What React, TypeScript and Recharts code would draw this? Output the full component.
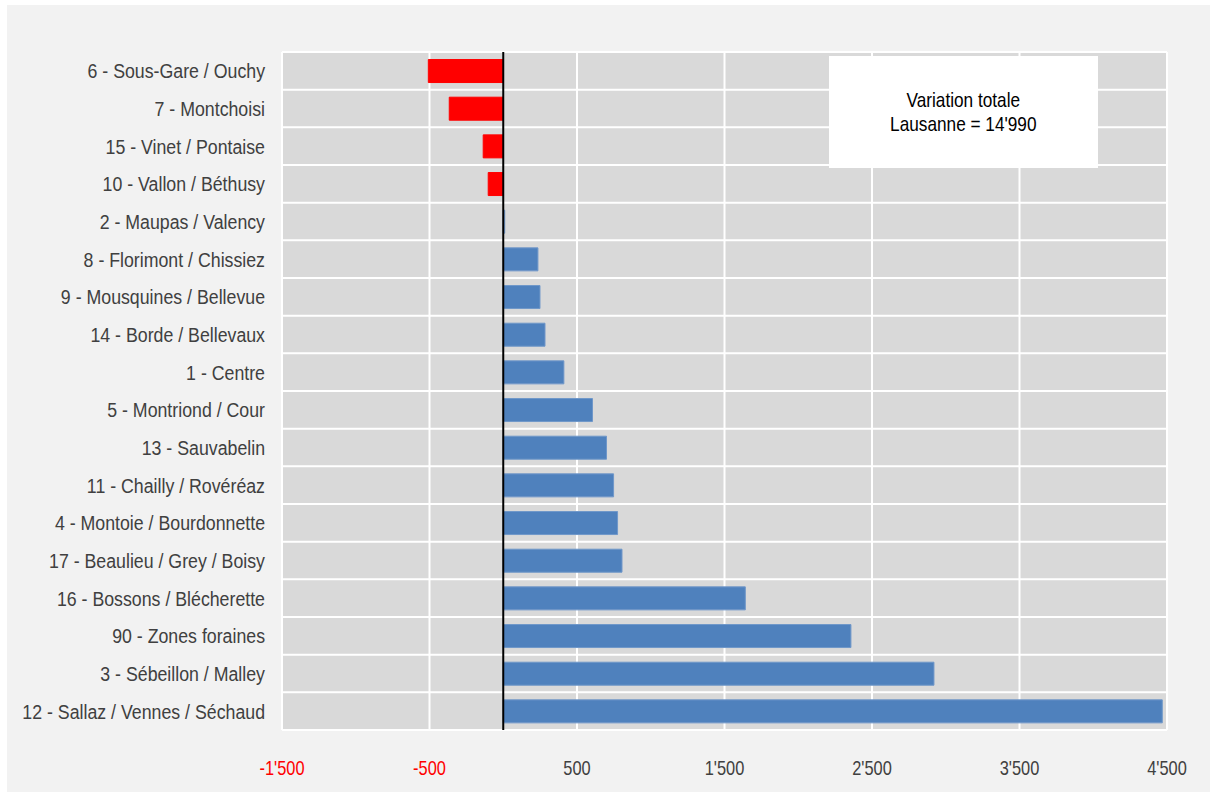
import React from "react";
import {
  BarChart,
  Bar,
  Cell,
  XAxis,
  YAxis,
  CartesianGrid,
  ReferenceLine,
} from "recharts";

// Variation de population par quartier
const quartiers = [
  "6 - Sous-Gare / Ouchy",
  "7 - Montchoisi",
  "15 - Vinet / Pontaise",
  "10 - Vallon / Béthusy",
  "2 - Maupas / Valency",
  "8 - Florimont / Chissiez",
  "9 - Mousquines / Bellevue",
  "14 - Borde / Bellevaux",
  "1 - Centre",
  "5 - Montriond / Cour",
  "13 - Sauvabelin",
  "11 - Chailly / Rovéréaz",
  "4 - Montoie / Bourdonnette",
  "17 - Beaulieu / Grey / Boisy",
  "16 - Bossons / Blécherette",
  "90 - Zones foraines",
  "3 - Sébeillon / Malley",
  "12 - Sallaz / Vennes / Séchaud",
];
const variations = [
  -508, -366, -136, -102, 10, 235, 249, 283, 411, 605, 700, 748, 775, 805,
  1641, 2357, 2920, 4468,
];
const xTicks = [-1500, -500, 500, 1500, 2500, 3500, 4500];
const totalLabel = ["Variation totale", "Lausanne = 14'990"];

const data = quartiers.map((name, i) => ({ name, value: variations[i] }));

// no narrow font installed: squeeze Liberation Sans to look like Arial Narrow
const FONT = '"Liberation Sans", Arial, sans-serif';
const NARROW = 0.82;
const NARROW_Y = 0.845;

const fmt = (n: number) =>
  String(n).replace(/\B(?=(\d{3})+(?!\d))/g, "'");

const XTick = (props: any) => {
  const { x, y, payload } = props;
  const v = payload.value as number;
  return (
    <g transform={`translate(${x},${y})`}>
      <text
        transform={`scale(${NARROW},1)`}
        dy={43}
        textAnchor="middle"
        fontSize={20}
        fontFamily={FONT}
        fill={v < 0 ? "#ff0000" : "#404040"}
      >
        {fmt(v)}
      </text>
    </g>
  );
};

const YTick = (props: any) => {
  const { x, y, payload } = props;
  return (
    <g transform={`translate(${x},${y})`}>
      <text
        transform={`scale(${NARROW_Y},1)`}
        dy="0.355em"
        textAnchor="end"
        fontSize={21}
        fontFamily={FONT}
        fill="#404040"
      >
        {payload.value}
      </text>
    </g>
  );
};

export default function App() {
  const n = data.length;
  return (
    <div
      style={{
        position: "absolute",
        left: 0,
        top: 0,
        width: 1214,
        height: 792,
        background: "#ffffff",
      }}
    >
      <div
        style={{
          position: "absolute",
          left: 7,
          top: 5,
          width: 1203,
          height: 787,
          background: "#f2f2f2",
          fontFamily: FONT,
        }}
      >
        <BarChart
          width={1203}
          height={787}
          data={data}
          layout="vertical"
          margin={{ top: 47, right: 43, bottom: 22, left: 0 }}
          barCategoryGap="20%"
        >
          <CartesianGrid
            fill="#d9d9d9"
            fillOpacity={1}
            stroke="#ffffff"
            strokeWidth={2}
            horizontalCoordinatesGenerator={({ offset }: any) =>
              Array.from(
                { length: n + 1 },
                (_, i) => offset.top + (i * offset.height) / n
              )
            }
          />
          <XAxis
            type="number"
            domain={[-1500, 4500]}
            ticks={xTicks}
            interval={0}
            height={40}
            axisLine={false}
            tickLine={false}
            tickSize={0}
            tick={<XTick />}
          />
          <YAxis
            type="category"
            dataKey="name"
            width={275}
            interval={0}
            axisLine={false}
            tickLine={false}
            tickSize={0}
            tickMargin={17}
            tick={<YTick />}
          />
          <Bar dataKey="value" isAnimationActive={false}>
            {data.map((d, i) => (
              <Cell
                key={i}
                fill={d.value < 0 ? "#ff0000" : "#4f81bd"}
                stroke={d.value < 0 ? "#ff0000" : "#6f97c9"}
                strokeWidth={1}
              />
            ))}
          </Bar>
          <ReferenceLine x={0} stroke="#000000" strokeWidth={2} />
        </BarChart>
        <div
          style={{
            position: "absolute",
            left: 822,
            top: 51,
            width: 269,
            height: 112,
            background: "#ffffff",
            display: "flex",
            flexDirection: "column",
            justifyContent: "center",
            alignItems: "center",
            fontSize: 21,
            lineHeight: "24px",
            color: "#000000",
          }}
        >
          <div style={{ transform: `scaleX(${NARROW})`, textAlign: "center" }}>
            {totalLabel.map((t) => (
              <div key={t} style={{ whiteSpace: "nowrap" }}>
                {t}
              </div>
            ))}
          </div>
        </div>
      </div>
    </div>
  );
}
